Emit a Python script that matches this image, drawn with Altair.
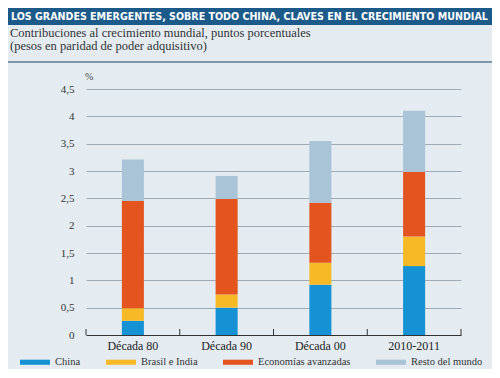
import altair as alt
import pandas as pd

periods = ["Década 80", "Década 90", "Década 00", "2010-2011"]
series = ["China", "Brasil e India", "Economías avanzadas", "Resto del mundo"]
china = [0.26, 0.50, 0.92, 1.26]
brasil = [0.23, 0.24, 0.40, 0.54]
economias = [1.96, 1.75, 1.10, 1.18]
resto = [0.76, 0.42, 1.13, 1.12]
colors = ["#1592d4", "#f8b926", "#e4541f", "#a9c3d7"]
y_ticks = [0, 0.5, 1, 1.5, 2, 2.5, 3, 3.5, 4, 4.5]

title = "LOS GRANDES EMERGENTES, SOBRE TODO CHINA, CLAVES EN EL CRECIMIENTO MUNDIAL"
sub1 = "Contribuciones al crecimiento mundial, puntos porcentuales"
sub2 = "(pesos en paridad de poder adquisitivo)"

rows = []
for i, (name, vals) in enumerate(zip(series, [china, brasil, economias, resto])):
    for p, v in zip(periods, vals):
        rows.append({"period": p, "serie": name, "value": v, "idx": i})
df = pd.DataFrame(rows)
pdf = pd.DataFrame({"period": periods})

W, H = 375, 246
PL, PT, PR, PB = 78, 81, 31, 34
SERIF = "Liberation Serif"

xenc = alt.X("period:N", sort=periods, title=None,
             scale=alt.Scale(paddingInner=0, paddingOuter=0),
             axis=alt.Axis(labelFont=SERIF, labelFontSize=12, labelColor="#222",
                           labelAngle=0, labelPadding=5, ticks=False,
                           domainColor="#333", domainWidth=1))

bars = alt.Chart(df).mark_bar(width=alt.RelativeBandSize(0.235)).encode(
    x=xenc,
    y=alt.Y("sum(value):Q", title=None,
            scale=alt.Scale(domain=[0, 4.5], nice=False),
            axis=alt.Axis(values=y_ticks, domain=False, ticks=False,
                          labelFont=SERIF, labelFontSize=11, labelColor="#333",
                          labelPadding=12, gridColor="#9eabb6", gridWidth=1,
                          labelExpr="replace(toString(datum.value), '.', ',')")),
    color=alt.Color("serie:N", sort=series,
                    scale=alt.Scale(domain=series, range=colors),
                    legend=alt.Legend(title=None, orient="none", legendX=-66, legendY=258,
                                      direction="horizontal", columns=4, columnPadding=25,
                                      symbolType="M-1,-0.17H1V0.17H-1Z", symbolSize=900,
                                      symbolStrokeWidth=0, labelFont=SERIF, labelFontSize=10.5,
                                      labelColor="#333", labelOffset=5)),
    order=alt.Order("idx:Q", sort="ascending"),
)

ticks_r = alt.Chart(pdf).mark_rule(color="#333", strokeWidth=1).encode(
    x=alt.X("period:N", sort=periods, bandPosition=1),
    y=alt.value(H), y2=alt.value(H - 6))
ticks_l = alt.Chart(pdf.iloc[:1]).mark_rule(color="#333", strokeWidth=1).encode(
    x=alt.X("period:N", sort=periods, bandPosition=0),
    y=alt.value(H), y2=alt.value(H - 6))

one = pd.DataFrame({"t": [title], "s1": [sub1], "s2": [sub2], "p": ["%"]})
header = alt.Chart(one).mark_rect(color="#1c5a89").encode(
    x=alt.value(-PL), x2=alt.value(W + PR), y=alt.value(-PT), y2=alt.value(-PT + 17))
title_t = alt.Chart(one).mark_text(
    font="DejaVu Sans Condensed", fontWeight="bold", fontSize=10.6, color="white",
    align="left", baseline="middle").encode(
    text="t:N", x=alt.value(-PL + 3), y=alt.value(-PT + 9))
sub1_t = alt.Chart(one).mark_text(font=SERIF, fontSize=12.5, color="#333",
                                  align="left", baseline="middle").encode(
    text="s1:N", x=alt.value(-PL + 2), y=alt.value(-PT + 25))
sub2_t = alt.Chart(one).mark_text(font=SERIF, fontSize=12.5, color="#333",
                                  align="left", baseline="middle").encode(
    text="s2:N", x=alt.value(-PL + 2), y=alt.value(-PT + 38))
sep = alt.Chart(one).mark_rule(color="#7f96ab", strokeWidth=2).encode(
    x=alt.value(-PL), x2=alt.value(W + PR), y=alt.value(-PT + 54))
pct = alt.Chart(one).mark_text(font=SERIF, fontSize=10, color="#444",
                               align="left", baseline="middle").encode(
    text="p:N", x=alt.value(-1), y=alt.value(-12))

chart = alt.layer(header, title_t, sub1_t, sub2_t, sep, pct, bars, ticks_r, ticks_l).properties(
    width=W, height=H,
    autosize=alt.AutoSizeParams(type="none"),
    padding={"left": PL, "top": PT, "right": PR, "bottom": PB},
    background="#e4ecf2",
).configure_view(stroke=None)

chart.save("out.html", embed_options={"renderer": "svg", "actions": False})
